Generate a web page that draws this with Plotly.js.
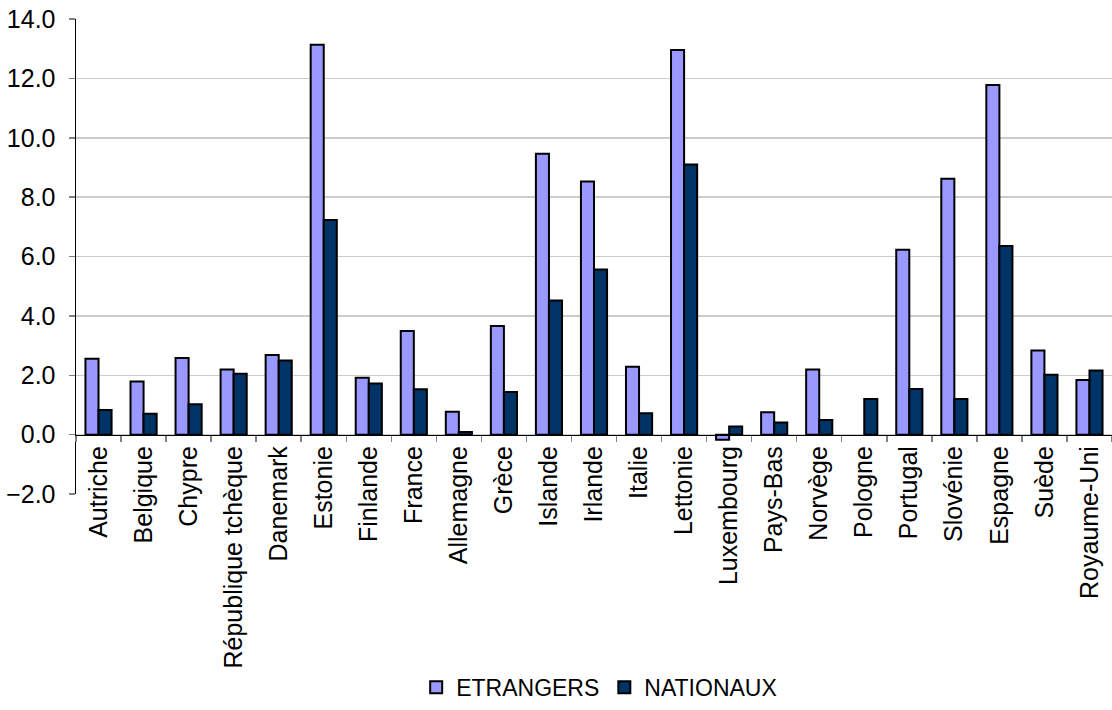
<!DOCTYPE html>
<html>
<head>
<meta charset="utf-8">
<script src="https://cdn.plot.ly/plotly-3.0.1.min.js"></script>
<style>html,body{margin:0;padding:0;background:#fff;}#chart{width:1112px;height:710px;}</style>
</head>
<body>
<div id="chart"></div>
<script>
const countries = ["Autriche","Belgique","Chypre","République tchèque","Danemark","Estonie","Finlande","France","Allemagne","Grèce","Islande","Irlande","Italie","Lettonie","Luxembourg","Pays-Bas","Norvège","Pologne","Portugal","Slovénie","Espagne","Suède","Royaume-Uni"];
const etrangers = [2.56,1.79,2.58,2.19,2.68,13.13,1.92,3.49,0.77,3.66,9.46,8.53,2.29,12.96,-0.17,0.75,2.19,null,6.23,8.62,11.78,2.83,1.84];
const nationaux = [0.83,0.70,1.02,2.05,2.50,7.23,1.72,1.53,0.09,1.44,4.52,5.56,0.72,9.10,0.27,0.41,0.49,1.20,1.54,1.20,6.35,2.02,2.16];
const yTicks = [-2,0,2,4,6,8,10,12,14];

const font = "Liberation Sans, Arial, sans-serif";
const data = [
  {type:"bar", name:"ETRANGERS", x:countries, y:etrangers,
   marker:{color:"#9999FF", line:{color:"#000000", width:2}}},
  {type:"bar", name:"NATIONAUX", x:countries, y:nationaux,
   marker:{color:"#003366", line:{color:"#000000", width:2}}}
];
const layout = {
  width:1112, height:710,
  margin:{l:76, r:0, t:19, b:216, autoexpand:false},
  paper_bgcolor:"#ffffff", plot_bgcolor:"#ffffff",
  font:{family:font, size:25, color:"#000000"},
  barmode:"group", bargap:0.42, bargroupgap:0,
  showlegend:true,
  legend:{orientation:"h", x:0.505, xanchor:"center", y:-0.452, yanchor:"bottom",
          font:{family:font, size:23, color:"#000"}, itemwidth:30, traceorder:"normal",
          tracegroupgap:0, bgcolor:"rgba(0,0,0,0)", borderwidth:0},
  xaxis:{type:"category", anchor:"free", position:0.125,
         showline:true, linecolor:"#000000", linewidth:1.5,
         ticks:"outside", tickson:"boundaries", ticklen:6, tickcolor:"#808080", tickwidth:1.5,
         tickangle:-90, tickfont:{family:font, size:25, color:"#000"},
         showgrid:false, zeroline:false, fixedrange:true},
  yaxis:{range:[-2,14], tickvals:yTicks, tickformat:".1f",
         showline:true, linecolor:"#000000", linewidth:1.5,
         ticks:"outside", ticklen:6, tickcolor:"#808080", tickwidth:1.5,
         ticklabelstandoff:8,
         gridcolor:"#cccccc", gridwidth:1.5, zeroline:false,
         tickfont:{family:font, size:25, color:"#000"}, fixedrange:true}
};
Plotly.newPlot("chart", data, layout, {displayModeBar:false, staticPlot:true});
</script>
</body>
</html>
